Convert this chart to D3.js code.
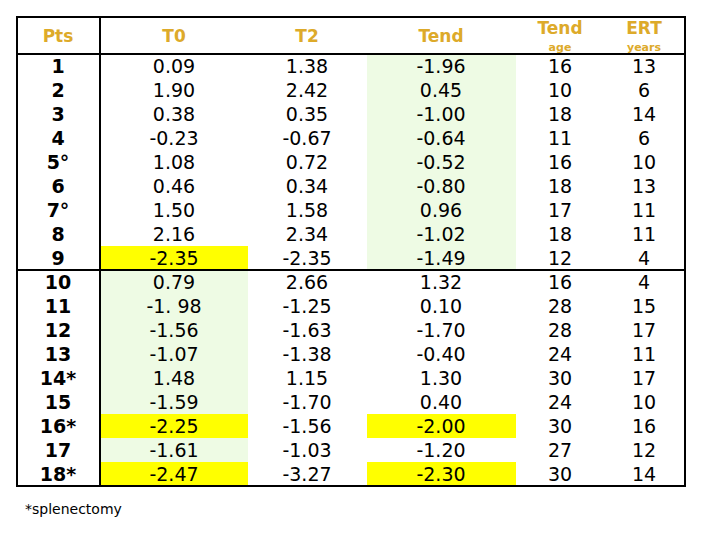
<!DOCTYPE html>
<html lang="en">
<head>
<meta charset="utf-8">
<title>Pts table</title>
<script src="https://cdn.jsdelivr.net/npm/d3@7"></script>
<style>
  body { margin: 0; background: #fff; }
  svg text { font-family: "Comic Sans MS", "DejaVu Sans", sans-serif; }
</style>
</head>
<body>
<script>
// table values
var pts      = ["1","2","3","4","5°","6","7°","8","9","10","11","12","13","14*","15","16*","17","18*"];
var t0       = ["0.09","1.90","0.38","-0.23","1.08","0.46","1.50","2.16","-2.35","0.79","-1. 98","-1.56","-1.07","1.48","-1.59","-2.25","-1.61","-2.47"];
var t2       = ["1.38","2.42","0.35","-0.67","0.72","0.34","1.58","2.34","-2.35","2.66","-1.25","-1.63","-1.38","1.15","-1.70","-1.56","-1.03","-3.27"];
var tend     = ["-1.96","0.45","-1.00","-0.64","-0.52","-0.80","0.96","-1.02","-1.49","1.32","0.10","-1.70","-0.40","1.30","0.40","-2.00","-1.20","-2.30"];
var tendAge  = [16,10,18,11,16,18,17,18,12,16,28,28,24,30,24,30,27,30];
var ertYears = [13,6,14,6,10,13,11,11,4,4,15,17,11,17,10,16,12,14];
// cell shading: g = green, y = yellow, "" = none
var t0Shade   = ["","","","","","","","","y","g","g","g","g","g","g","y","g","y"];
var tendShade = ["g","g","g","g","g","g","g","g","g","","","","","","","y","","y"];

var headers = [
  {key: "pts",  title: "Pts",  sub: ""},
  {key: "t0",   title: "T0",   sub: ""},
  {key: "t2",   title: "T2",   sub: ""},
  {key: "tend", title: "Tend", sub: ""},
  {key: "age",  title: "Tend", sub: "age"},
  {key: "ert",  title: "ERT",  sub: "years"}
];

// layout
var W = 720, H = 540;
var boxL = 17, boxR = 685, boxT = 17, headBottom = 54, boxB = 486;
var colEdges = {pts: [17, 100], t0: [100, 248], t2: [248, 366], tend: [366, 516], age: [516, 604], ert: [604, 685]};
var colCenter = {pts: 58, t0: 174, t2: 307, tend: 441, age: 560, ert: 644};
var gold = "#DDAA2A", green = "#EEFBE4", yellow = "#FFFF00";

var rows = pts.map(function (p, i) {
  return {pts: p, t0: t0[i], t2: t2[i], tend: tend[i], age: tendAge[i], ert: ertYears[i],
          t0s: t0Shade[i], tends: tendShade[i]};
});

var y = d3.scaleBand().domain(d3.range(rows.length)).range([headBottom, boxB]).padding(0);

var svg = d3.select("body").append("svg").attr("width", W).attr("height", H);

function shadeColor(s) { return s === "g" ? green : s === "y" ? yellow : "none"; }

// shaded cells
[["t0", "t0s"], ["tend", "tends"]].forEach(function (c) {
  svg.append("g").selectAll("rect")
    .data(rows.map(function (r, i) { return {i: i, s: r[c[1]]}; }).filter(function (d) { return d.s; }))
    .enter().append("rect")
    .attr("x", colEdges[c[0]][0] + 1)
    .attr("width", colEdges[c[0]][1] - colEdges[c[0]][0] - 1)
    .attr("y", function (d) { return y(d.i); })
    .attr("height", y.bandwidth())
    .attr("fill", function (d) { return shadeColor(d.s); });
});

// headers
var hg = svg.append("g");
headers.forEach(function (h) {
  var cx = colCenter[h.key];
  hg.append("text")
    .attr("x", cx).attr("y", h.sub ? 34 : 42)
    .attr("text-anchor", "middle")
    .style("font-size", "17px").style("font-weight", "bold")
    .style("fill", gold)
    .text(h.title);
  if (h.sub) {
    hg.append("text")
      .attr("x", cx).attr("y", 51)
      .attr("text-anchor", "middle")
      .style("font-size", "11px").style("font-weight", "bold")
      .style("fill", gold)
      .text(h.sub);
  }
});

// body cells
["pts", "t0", "t2", "tend", "age", "ert"].forEach(function (k) {
  svg.append("g").selectAll("text")
    .data(rows)
    .enter().append("text")
    .attr("x", colCenter[k])
    .attr("y", function (d, i) { return y(i) + y.bandwidth() / 2; })
    .attr("dy", "0.36em")
    .attr("text-anchor", "middle")
    .style("font-size", "19px")
    .style("font-weight", k === "pts" ? "bold" : "normal")
    .style("fill", "#000")
    .text(function (d) { return d[k]; });
});

// grid lines
var lines = svg.append("g").attr("stroke", "#000").attr("stroke-width", 2).attr("fill", "none");
lines.append("rect").attr("x", boxL).attr("y", boxT).attr("width", boxR - boxL).attr("height", boxB - boxT);
lines.append("line").attr("x1", boxL).attr("x2", boxR).attr("y1", headBottom).attr("y2", headBottom);
lines.append("line").attr("x1", boxL).attr("x2", boxR).attr("y1", y(9)).attr("y2", y(9));
lines.append("line").attr("x1", colEdges.pts[1]).attr("x2", colEdges.pts[1]).attr("y1", boxT).attr("y2", boxB);

// footnote
svg.append("text")
  .attr("x", 25).attr("y", 514)
  .style("font-size", "14px")
  .text("*splenectomy");
</script>
</body>
</html>
